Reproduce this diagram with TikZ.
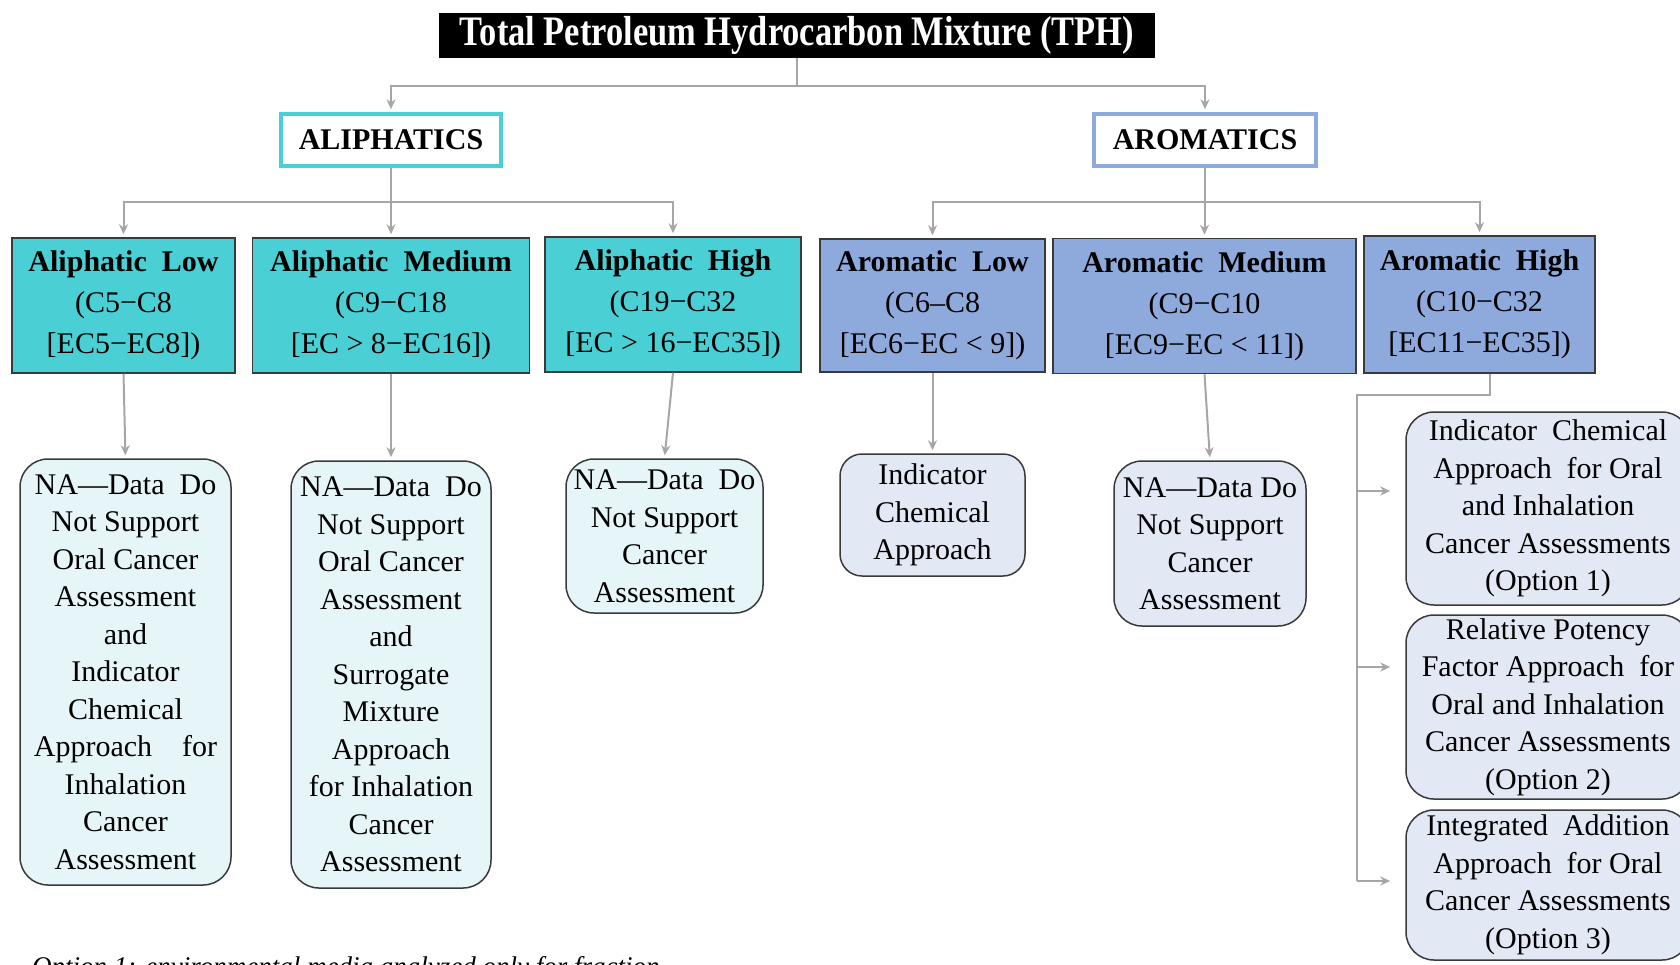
\documentclass[tikz,border=0pt]{standalone}
\usepackage{fontspec}
\setmainfont{Liberation Serif}
\usepackage{graphicx}
\usetikzlibrary{calc,arrows.meta}
\definecolor{aliph}{HTML}{4ACFD4}
\definecolor{aroma}{HTML}{8EA9DB}
\definecolor{aliphlt}{HTML}{E6F6F8}
\definecolor{aromalt}{HTML}{E3E8F5}
\definecolor{edge}{HTML}{3A3A3A}
\definecolor{wire}{HTML}{A6A6A6}
\tikzset{
  link/.style={draw=wire, line width=2pt},
  linkarr/.style={link, -{Stealth[length=10pt,width=9pt]}, shorten >=3pt},
  tbox/.style={fill=black, text=white, inner sep=0pt, font=\fontsize{42}{46}\selectfont\bfseries},
  grp/.style={draw, fill=white, line width=3.5pt, inner sep=0pt, minimum height=52pt, font=\fontsize{30}{36}\selectfont\bfseries},
  frac/.style={draw=edge, line width=1.5pt, inner sep=0pt, minimum height=135pt, align=center, font=\fontsize{30}{41}\selectfont},
  leaf/.style={draw=edge, line width=1.5pt, rounded corners=28pt, inner sep=0pt, align=center, font=\fontsize{30}{37.5}\selectfont},
  lab/.style={font=\fontsize{27}{32}\selectfont, inner sep=0pt}
}

\begin{document}
\begin{tikzpicture}[x=1pt, y=-1pt]
  \useasboundingbox (0,0) rectangle (1680,964);
  \clip (0,0) rectangle (1680,964);
  % top of the tree
  \node[tbox, minimum width=716pt, minimum height=45pt] (tph) at (797,35.5)
    {\scalebox{0.82}[1]{Total Petroleum Hydrocarbon Mixture (TPH)}};
  \node[grp, draw=aliph, minimum width=220pt] (ali) at (391,140) {ALIPHATICS};
  \node[grp, draw=aroma, minimum width=222pt] (aro) at (1205,140) {AROMATICS};

  % fractions
  \node[frac, fill=aliph, minimum width=223pt] (al) at (123.5,305.5)
    {\textbf{Aliphatic\ \ Low}\\(C5−C8\\{}[EC5−EC8])};
  \node[frac, fill=aliph, minimum width=277pt] (am) at (391,305.5)
    {\textbf{Aliphatic\ \ Medium}\\(C9−C18\\{}[EC > 8−EC16])};
  \node[frac, fill=aliph, minimum width=256pt] (ah) at (673,304.5)
    {\textbf{Aliphatic\ \ High}\\(C19−C32\\{}[EC > 16−EC35])};
  \node[frac, fill=aroma, minimum width=225pt, minimum height=133pt] (arl) at (932.5,305.5)
    {\textbf{Aromatic\ \ Low}\\(C6–C8\\{}[EC6−EC < 9])};
  \node[frac, fill=aroma, minimum width=303pt] (arm) at (1204.5,306)
    {\textbf{Aromatic\ \ Medium}\\(C9−C10\\{}[EC9−EC < 11])};
  \node[frac, fill=aroma, minimum width=231pt, minimum height=137pt] (arh) at (1479.5,304.5)
    {\textbf{Aromatic\ \ High}\\(C10−C32\\{}[EC11−EC35])};

  % assessment boxes
  \node[leaf, fill=aliphlt, minimum width=211pt, minimum height=426pt] (all) at (125.5,672)
    {NA—Data\ \ Do\\Not Support\\Oral Cancer\\Assessment\\and\\Indicator\\Chemical\\Approach\quad for\\Inhalation\\Cancer\\Assessment};
  \node[leaf, fill=aliphlt, minimum width=200pt, minimum height=427pt] (aml) at (391,674.5)
    {NA—Data\ \ Do\\Not Support\\Oral Cancer\\Assessment\\and\\Surrogate\\Mixture\\Approach\\for Inhalation\\Cancer\\Assessment};
  \node[leaf, fill=aliphlt, minimum width=197pt, minimum height=154pt] (ahl) at (664.5,536)
    {NA—Data\ \ Do\\Not Support\\Cancer\\Assessment};
  \node[leaf, fill=aromalt, minimum width=185pt, minimum height=122pt, rounded corners=22pt] (arll) at (932.5,515)
    {Indicator\\Chemical\\Approach};
  \node[leaf, fill=aromalt, minimum width=192pt, minimum height=165pt] (arml) at (1210,543.5)
    {NA—Data Do\\Not Support\\Cancer\\Assessment};
  \node[leaf, fill=aromalt, minimum width=284pt, minimum height=193pt] (o1) at (1548,508.5)
    {Indicator\ \ Chemical\\Approach\ \ for Oral\\and Inhalation\\Cancer Assessments\\(Option 1)};
  \node[leaf, fill=aromalt, minimum width=284pt, minimum height=184pt] (o2) at (1548,707)
    {Relative Potency\\Factor Approach\ \ for\\Oral and Inhalation\\Cancer Assessments\\(Option 2)};
  \node[leaf, fill=aromalt, minimum width=284pt, minimum height=150pt] (o3) at (1548,885)
    {Integrated\ \ Addition\\Approach\ \ for Oral\\Cancer Assessments\\(Option 3)};

  \node[lab, anchor=base west] (note) at (32,975)
    {\itshape Option 1: environmental media analyzed only for fraction};

  % connectors
  \coordinate (j0) at ($(tph.south)+(0,28)$);
  \draw[link] (tph.south) -- (j0);
  \draw[linkarr] (j0) -| (ali.north);
  \draw[linkarr] (j0) -| (aro.north);
  \coordinate (j1) at ($(ali.south)+(0,34)$);
  \coordinate (j2) at ($(aro.south)+(0,34)$);
  \draw[link] (ali.south) -- (j1);
  \draw[link] (aro.south) -- (j2);
  \foreach \n in {al,am,ah} \draw[linkarr] (j1) -| (\n.north);
  \foreach \n in {arl,arm,arh} \draw[linkarr] (j2) -| (\n.north);
  \draw[linkarr] (al.south) -- (all.north);
  \draw[linkarr] (am.south) -- (aml.north);
  \draw[linkarr] (ah.south) -- (ahl.north);
  \draw[linkarr] (arl.south) -- (arll.north);
  \draw[linkarr] (arm.south) -- (arml.north);
  % options for the high aromatics
  \coordinate (b1) at (1357,491);
  \coordinate (b2) at (1357,667);
  \coordinate (b3) at (1357,881);
  \draw[link] ([xshift=10pt]arh.south) -- ++(0,21) -| (b3);
  \foreach \i in {1,2,3} \draw[linkarr, shorten >=15pt] (b\i) -- (b\i -| o\i.west);
\end{tikzpicture}
\end{document}
